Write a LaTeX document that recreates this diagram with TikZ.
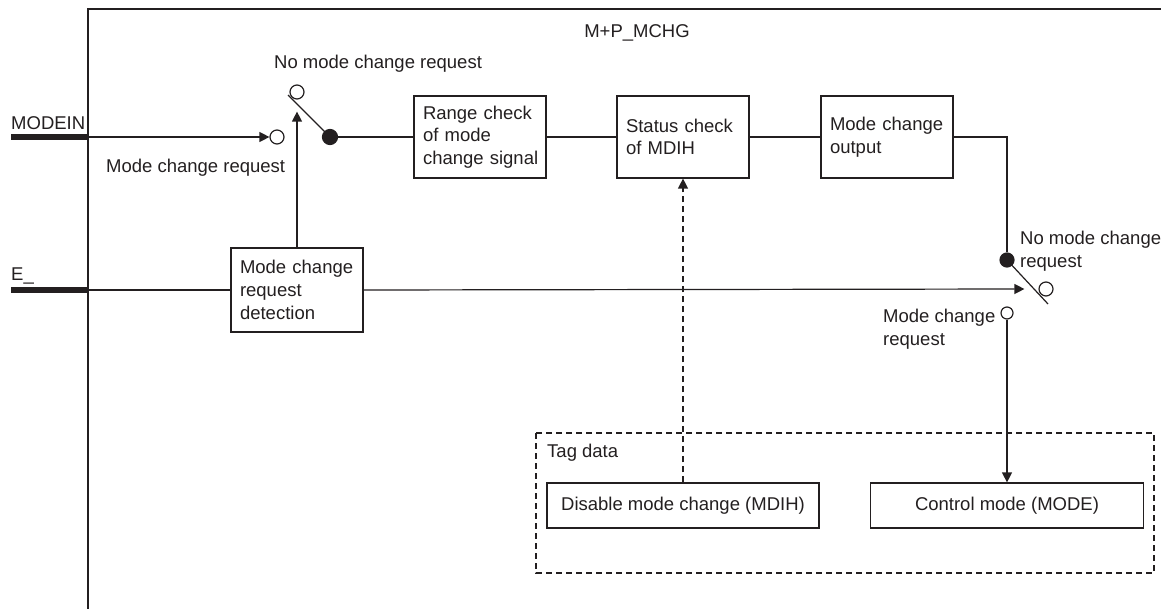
\documentclass[tikz,border=0pt]{standalone}
\usepackage{fontspec}
\setmainfont{Liberation Sans}
\usetikzlibrary{arrows.meta}
\definecolor{ink}{HTML}{231F20}
\begin{document}
\begin{tikzpicture}[x=1pt,y=-1pt,
  every node/.style={font=\fontsize{18.5}{22.7}\selectfont, text=ink},
  ln/.style={draw=ink, line width=1.2pt},
  arr/.style={ln, -{Triangle[length=10pt,width=10pt]}},
  blk/.style={ln, rectangle, text width=114pt, inner xsep=9pt, inner ysep=0pt, align=left, minimum height=82pt},
  tagbox/.style={ln, rectangle, inner sep=0pt, minimum height=45pt, align=center},
  lbl/.style={inner sep=0pt, align=left},
  ocirc/.style={ln, circle, inner sep=0pt, minimum size=14pt, fill=white},
  fcirc/.style={ln, circle, inner sep=0pt, minimum size=15pt, fill=ink},
  bus/.style={draw=ink, line width=6.5pt}
]
\useasboundingbox (0,0) rectangle (1161,609);
% outer frame
\draw[ln] (88,609) -- (88,9) -- (1161,9);
\node (title) at (637,33) {M+P\_MCHG};

% inputs
\node[lbl, anchor=base west] (modein) at (11,130) {MODEIN};
\coordinate (mbarL) at (11,137);
\coordinate (mbarR) at (88,137);
\draw[bus] (mbarL) -- (mbarR);
\node[lbl, anchor=base west] (elbl) at (11,281) {E\_};
\coordinate (ebarL) at (11,290);
\coordinate (ebarR) at (88,290);
\draw[bus] (ebarL) -- (ebarR);

% switch 1
\node[ocirc] (openA) at (277,137) {};
\node[ocirc] (swTop) at (297,92) {};
\node[fcirc] (swFill) at (330,137) {};
\coordinate (swStart) at (288,95);
\draw[ln] (swStart) -- (swFill.center);
\node[lbl, anchor=west] (nmcr1) at (274,64) {No mode change request};
\node[lbl, anchor=west] (mcr1) at (106,168) {Mode change request};

% blocks
\node[blk] (range) at (480,137) {Range check\\of mode\\\mbox{change signal}};
\node[blk] (status) at (683,137) {Status check\\of MDIH};
\node[blk] (output) at (887,137) {Mode change\\output};
\node[blk, minimum height=84pt] (detect) at (297,290) {Mode change\\request\\detection};

% switch 2
\node[fcirc, minimum size=14pt] (fill2) at (1007,260) {};
\node[ocirc] (open2) at (1046,289) {};
\node[ocirc, minimum size=12pt] (open3) at (1007,313) {};
\coordinate (sw2End) at (1048,304);
\draw[ln] (fill2.center) -- (sw2End);
\node[lbl, anchor=west] (nmcr2) at (1020,251) {No mode change\\request};
\node[lbl, anchor=west] (mcr2) at (883,329.5) {Mode change\\request};

% tag data
\draw[ln, dashed, dash pattern=on 6pt off 4pt] (536,433) rectangle (1154,573);
\node[lbl, anchor=west] (tag) at (547,453) {Tag data};
\node[tagbox, minimum width=272pt] (mdih) at (683,505.5) {Disable mode change (MDIH)};
\node[tagbox, minimum width=273pt] (mode) at (1007,505.5) {Control mode (MODE)};

% connectors
\draw[arr] (mbarR) -- (openA.west);
\draw[arr] (detect.north) -- ([yshift=-12pt]swTop.south);
\draw[ln] (swFill) -- (range.west);
\draw[ln] (range.east) -- (status.west);
\draw[ln] (status.east) -- (output.west);
\draw[ln] (output.east) -| (fill2.north);
\draw[ln] (ebarR) -- (detect.west);
\draw[arr] (detect.east) -- ([xshift=-14pt]open2.west);
\draw[arr] (open3.south) -- (mode.north);
\draw[arr, dash pattern=on 6pt off 4pt] (mdih.north) -- (status.south);
\end{tikzpicture}
\end{document}
